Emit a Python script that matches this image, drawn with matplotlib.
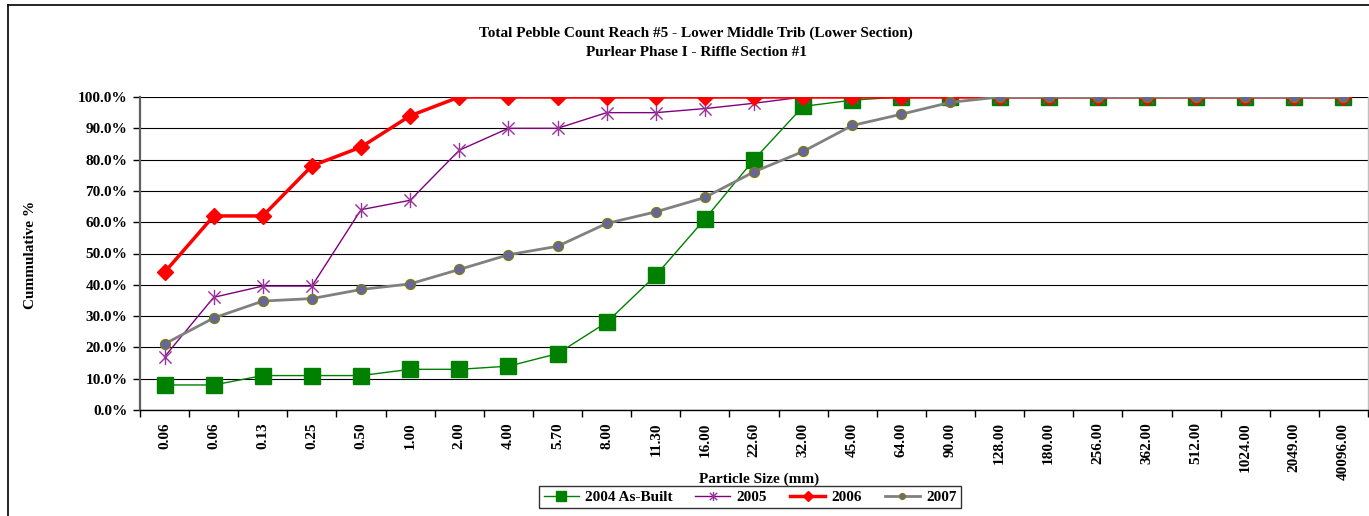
import matplotlib
matplotlib.use("Agg")
import matplotlib.pyplot as plt
from matplotlib.lines import Line2D
from matplotlib.path import Path
from matplotlib.ticker import FixedLocator, FuncFormatter

plt.rcParams['font.family'] = ['Liberation Serif', 'DejaVu Serif']
plt.rcParams['font.weight'] = 'bold'

sizes = ["0.06", "0.06", "0.13", "0.25", "0.50", "1.00", "2.00", "4.00", "5.70", "8.00",
         "11.30", "16.00", "22.60", "32.00", "45.00", "64.00", "90.00", "128.00", "180.00",
         "256.00", "362.00", "512.00", "1024.00", "2049.00", "40096.00"]

y2004 = [8, 8, 11, 11, 11, 13, 13, 14, 18, 28, 43, 61, 80, 97, 99, 100, 100, 100, 100,
         100, 100, 100, 100, 100, 100]
y2005 = [17, 36, 39.6, 39.6, 64, 67, 83, 90, 90, 95, 95, 96.3, 98, 100, 100, 100, 100, 100,
         100, 100, 100, 100, 100, 100, 100]
y2006 = [44, 62, 62, 78, 84, 94, 100, 100, 100, 100, 100, 100, 100, 100, 100, 100, 100, 100,
         100, 100, 100, 100, 100, 100, 100]
y2007 = [21.1, 29.4, 34.8, 35.6, 38.5, 40.3, 44.9, 49.6, 52.3, 59.6, 63.3, 67.9, 76.1, 82.6,
         90.9, 94.5, 98.3, 100, 100, 100, 100, 100, 100, 100, 100]

title_lines = ["Total Pebble Count Reach #5 - Lower Middle Trib (Lower Section)",
               "Purlear Phase I - Riffle Section #1"]

W, H = 1369, 516
FS = 11
fig = plt.figure(figsize=(W / 100, H / 100), dpi=100)
ax = fig.add_axes([140 / W, 1 - 410 / H, (1368 - 140) / W, (410 - 97) / H])

x = list(range(len(sizes)))

# asterisk marker: X plus vertical bar
ast = Path([(-1, -1), (1, 1), (-1, 1), (1, -1), (0, -1.25), (0, 1.25)],
           [Path.MOVETO, Path.LINETO, Path.MOVETO, Path.LINETO, Path.MOVETO, Path.LINETO])

ax.plot(x, [v / 100 for v in y2004], color='#008000', lw=1, marker='s', ms=11,
        mfc='#008000', mec='#008000', label='2004 As-Built', zorder=3)
ax.plot(x, [v / 100 for v in y2005], color='#800080', lw=1, marker=ast, ms=11,
        mfc='none', mec='#993399', mew=1.0, label='2005', zorder=4)
ax.plot(x, [v / 100 for v in y2006], color='#FF0000', lw=2.5, marker='D', ms=8.5,
        mfc='#FF0000', mec='#FF0000', label='2006', zorder=5)
ax.plot(x, [v / 100 for v in y2007], color='#808080', lw=2, marker='o', ms=7.3,
        mfc='#666699', mec='#808000', mew=0.8, label='2007', zorder=6)

ax.set_xlim(-0.5, len(sizes) - 0.5)
ax.set_ylim(0, 1.0)

ax.yaxis.set_major_locator(FixedLocator([i / 10 for i in range(11)]))
ax.yaxis.set_major_formatter(FuncFormatter(lambda v, p: f"{v * 100:.1f}%"))
ax.grid(axis='y', color='black', lw=0.8, zorder=0)

ax.set_xticks(x)
ax.set_xticklabels(sizes, rotation=90, fontsize=FS, fontweight='bold', va='top')
ax.xaxis.set_minor_locator(FixedLocator([i - 0.5 for i in range(len(sizes) + 1)]))
ax.tick_params(axis='x', which='major', length=0, pad=9)
ax.tick_params(axis='x', which='minor', length=5, width=1, color='black', direction='out')
ax.tick_params(axis='y', length=5, width=1, color='black', direction='out', labelsize=FS, pad=4)
for lab in ax.get_yticklabels():
    lab.set_fontweight('bold')

ax.spines['top'].set_visible(False)
ax.spines['right'].set_color('#c0c0c0')
ax.spines['right'].set_linewidth(1)
ax.spines['left'].set_color('#606060')
ax.spines['left'].set_linewidth(1.6)
ax.spines['bottom'].set_color('black')
ax.spines['bottom'].set_linewidth(1)

fig.text(696 / W, 1 - 33 / H, title_lines[0], ha='center', va='center', fontsize=FS, fontweight='bold')
fig.text(696 / W, 1 - 52 / H, title_lines[1], ha='center', va='center', fontsize=FS, fontweight='bold')
fig.text(30 / W, 1 - 255 / H, "Cummulative %", rotation=90, ha='center', va='center',
         fontsize=FS, fontweight='bold')
fig.text(759 / W, 1 - 479 / H, "Particle Size (mm)", ha='center', va='center',
         fontsize=FS, fontweight='bold')

leg = fig.legend(loc='center', bbox_to_anchor=(750 / W, 1 - 497 / H), ncol=4, frameon=True,
                 fancybox=False, edgecolor='black', fontsize=FS, handlelength=2.3,
                 columnspacing=1.5, borderpad=0.3, handletextpad=0.4, markerscale=0.6,
                 borderaxespad=0)
leg.get_frame().set_linewidth(1)
for t in leg.get_texts():
    t.set_fontweight('bold')

# outer chart border (cropped)
fig.add_artist(Line2D([8 / W, 8 / W], [0, 1 - 5 / H], color='black', lw=1.2, transform=fig.transFigure))
fig.add_artist(Line2D([8 / W, 1], [1 - 5 / H, 1 - 5 / H], color='black', lw=1.2, transform=fig.transFigure))

fig.savefig("out.png", dpi=100)
